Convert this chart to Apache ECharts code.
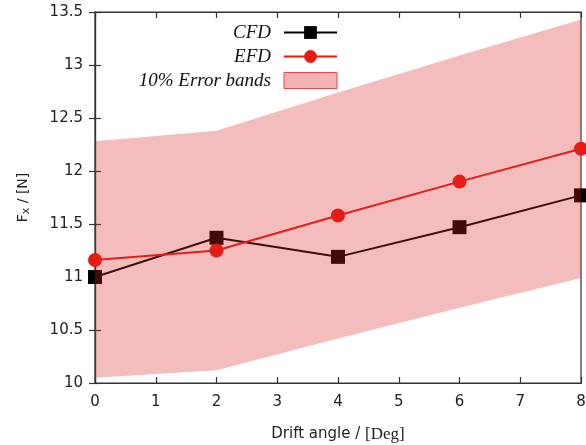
<!DOCTYPE html>
<html>
<head>
<meta charset="utf-8">
<script src="https://cdn.jsdelivr.net/npm/echarts@6/dist/echarts.min.js"></script>
<style>
  html, body { margin: 0; padding: 0; background: #fff; }
  #chart { width: 586px; height: 445px; }
</style>
</head>
<body>
<div id="chart"></div>
<script>
// drift angle [deg]
var angles = [0, 2, 4, 6, 8]
// Fx [N]
var cfdValues = [11.0, 11.37, 11.19, 11.47, 11.77]
var efdValues = [11.16, 11.25, 11.58, 11.9, 12.21]
// 10% error band around EFD
var bandUpper = [12.28, 12.38, 12.74, 13.09, 13.43]
var bandLower = [10.05, 10.12, 10.42, 10.71, 10.99]
var xTicks = [0, 1, 2, 3, 4, 5, 6, 7, 8]
var yTicks = [10, 10.5, 11, 11.5, 12, 12.5, 13, 13.5]

var chart = echarts.init(document.getElementById('chart'))

var axisFont = { fontFamily: 'DejaVu Sans', fontSize: 15, color: '#222' }
var axisLineStyle = { color: '#333', width: 1.2 }

var bandData = angles.map(function (a, i) {
  return [a, bandLower[i], bandUpper[i]]
})

chart.setOption({
  animation: false,
  grid: {
    left: 95,
    right: 5,
    top: 12,
    bottom: 62,
    outerBoundsMode: 'none',
    containLabel: false,
    show: true,
    borderColor: '#333',
    borderWidth: 1.2,
    backgroundColor: 'transparent'
  },
  legend: {
    orient: 'vertical',
    align: 'right',
    right: 248,
    top: 23,
    padding: 0,
    itemWidth: 53,
    itemHeight: 16,
    itemGap: 5,
    textStyle: {
      fontFamily: 'Liberation Serif',
      fontStyle: 'italic',
      fontSize: 19,
      color: '#111',
      padding: [0, 8, 0, 0]
    },
    data: [
      { name: 'CFD' },
      { name: 'EFD' },
      {
        name: '10% Error bands',
        icon: 'rect',
        itemStyle: { color: '#f4b3b3', borderColor: '#e04a4a', borderWidth: 1 }
      }
    ]
  },
  xAxis: [{
    type: 'value',
    min: 0,
    max: 8,
    interval: 1,
    name: '{a|Drift angle / }{b|[Deg]}',
    nameLocation: 'middle',
    nameGap: 43,
    nameTextStyle: {
      rich: {
        a: { fontFamily: 'DejaVu Sans', fontSize: 15, color: '#222' },
        b: { fontFamily: 'Liberation Serif', fontSize: 17, color: '#222' }
      }
    },
    axisLine: { lineStyle: axisLineStyle },
    axisTick: { inside: true, length: 6, lineStyle: axisLineStyle },
    axisLabel: Object.assign({ margin: 12, showMaxLabel: true, showMinLabel: true }, axisFont),
    splitLine: { show: false }
  }, {
    type: 'value',
    position: 'top',
    min: 0,
    max: 8,
    interval: 1,
    axisLine: { lineStyle: axisLineStyle },
    axisTick: { inside: true, length: 6, lineStyle: axisLineStyle },
    axisLabel: { show: false },
    splitLine: { show: false }
  }],
  yAxis: [{
    type: 'value',
    min: yTicks[0],
    max: yTicks[yTicks.length - 1],
    interval: 0.5,
    name: '{a|F}{s|x}{a| / }{b|[N]}',
    nameLocation: 'middle',
    nameGap: 63,
    nameRotate: 90,
    nameTextStyle: {
      rich: {
        a: { fontFamily: 'DejaVu Sans', fontSize: 14, color: '#222' },
        s: { fontFamily: 'DejaVu Sans', fontSize: 11, color: '#222', verticalAlign: 'bottom', padding: [6, 0, 0, 0] },
        b: { fontFamily: 'DejaVu Sans', fontSize: 14, color: '#222' }
      }
    },
    axisLine: { show: true, lineStyle: axisLineStyle },
    axisTick: { show: true, inside: true, length: 6, lineStyle: axisLineStyle },
    axisLabel: Object.assign({ margin: 12 }, axisFont),
    splitLine: { show: false }
  }, {
    type: 'value',
    position: 'right',
    min: yTicks[0],
    max: yTicks[yTicks.length - 1],
    interval: 0.5,
    axisLine: { show: true, lineStyle: axisLineStyle },
    axisTick: { show: true, inside: true, length: 6, lineStyle: axisLineStyle },
    axisLabel: { show: false },
    splitLine: { show: false }
  }],
  series: [
    {
      name: 'CFD',
      type: 'line',
      data: angles.map(function (a, i) { return [a, cfdValues[i]] }),
      symbol: 'rect',
      symbolSize: 14,
      clip: false,
      z: 3,
      itemStyle: { color: '#000' },
      lineStyle: { color: '#000', width: 2 }
    },
    {
      name: 'EFD',
      type: 'line',
      data: angles.map(function (a, i) { return [a, efdValues[i]] }),
      symbol: 'circle',
      symbolSize: 14,
      clip: false,
      z: 3,
      itemStyle: { color: '#e81a10' },
      lineStyle: { color: '#e81a10', width: 2 }
    },
    {
      name: '10% Error bands',
      type: 'custom',
      z: 4,
      itemStyle: { color: '#f4b3b3' },
      data: bandData,
      renderItem: function (params, api) {
        if (params.dataIndex !== 0) return null
        var upper = bandData.map(function (d) { return api.coord([d[0], d[2]]) })
        var lower = bandData.slice().reverse().map(function (d) { return api.coord([d[0], d[1]]) })
        return {
          type: 'polygon',
          shape: { points: upper.concat(lower) },
          style: { fill: 'rgba(218,36,36,0.3)' },
          silent: true
        }
      }
    }
  ]
})
</script>
</body>
</html>
